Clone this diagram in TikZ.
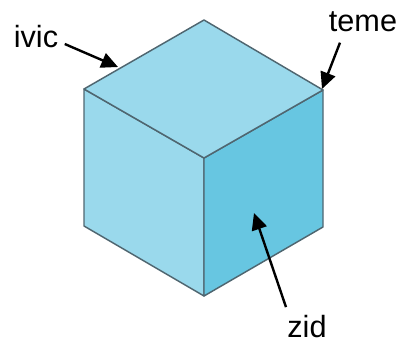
\documentclass[tikz,border=0pt]{standalone}
\usepackage{fontspec}
\setmainfont{Liberation Sans}
\usepackage{xcolor}
\usetikzlibrary{arrows.meta}
\definecolor{facelight}{HTML}{9AD9EC}
\definecolor{facedark}{HTML}{67C6E1}
\definecolor{edgegray}{HTML}{4F6670}

\begin{document}
\begin{tikzpicture}[x=0.75pt,y=-0.75pt,>={Stealth[length=12.5pt,width=11.5pt,inset=0pt]},
  face/.style={draw=edgegray,line width=1.1pt,line join=round},
  callout/.style={font=\fontsize{23}{27}\selectfont,inner sep=1pt},
  pointer/.style={->,line width=1.8pt,black}]
\useasboundingbox (0,0) rectangle (401,343);
% corners of the cube
\coordinate (top) at (204,20);
\coordinate (left) at (84,89);
\coordinate (right) at (323,90);
\coordinate (center) at (204,158);
\coordinate (lowleft) at (84,226);
\coordinate (lowright) at (323,227);
\coordinate (bottom) at (204,296);
% faces
\draw[face,fill=facelight] (left) -- (center) -- (bottom) -- (lowleft) -- cycle;
\draw[face,fill=facedark] (right) -- (center) -- (bottom) -- (lowright) -- cycle;
\draw[face,fill=facelight] (top) -- (right) -- (center) -- (left) -- cycle;
% labels
\node[callout] (ivic) at (36,37) {ivic};
\node[callout] (teme) at (363,22) {teme};
\node[callout] (zid) at (307,327) {zid};
\coordinate (edgetip) at (118,67);
\coordinate (cornertip) at (322,89);
\coordinate (facetip) at (254,213);
\draw[pointer] ([shift={(5,7)}]ivic.east) -- (edgetip);
\draw[pointer] ([shift={(-23,9)}]teme.south) -- (cornertip);
\draw[pointer] ([shift={(-21,-7)}]zid.north) -- (facetip);
\end{tikzpicture}
\end{document}
